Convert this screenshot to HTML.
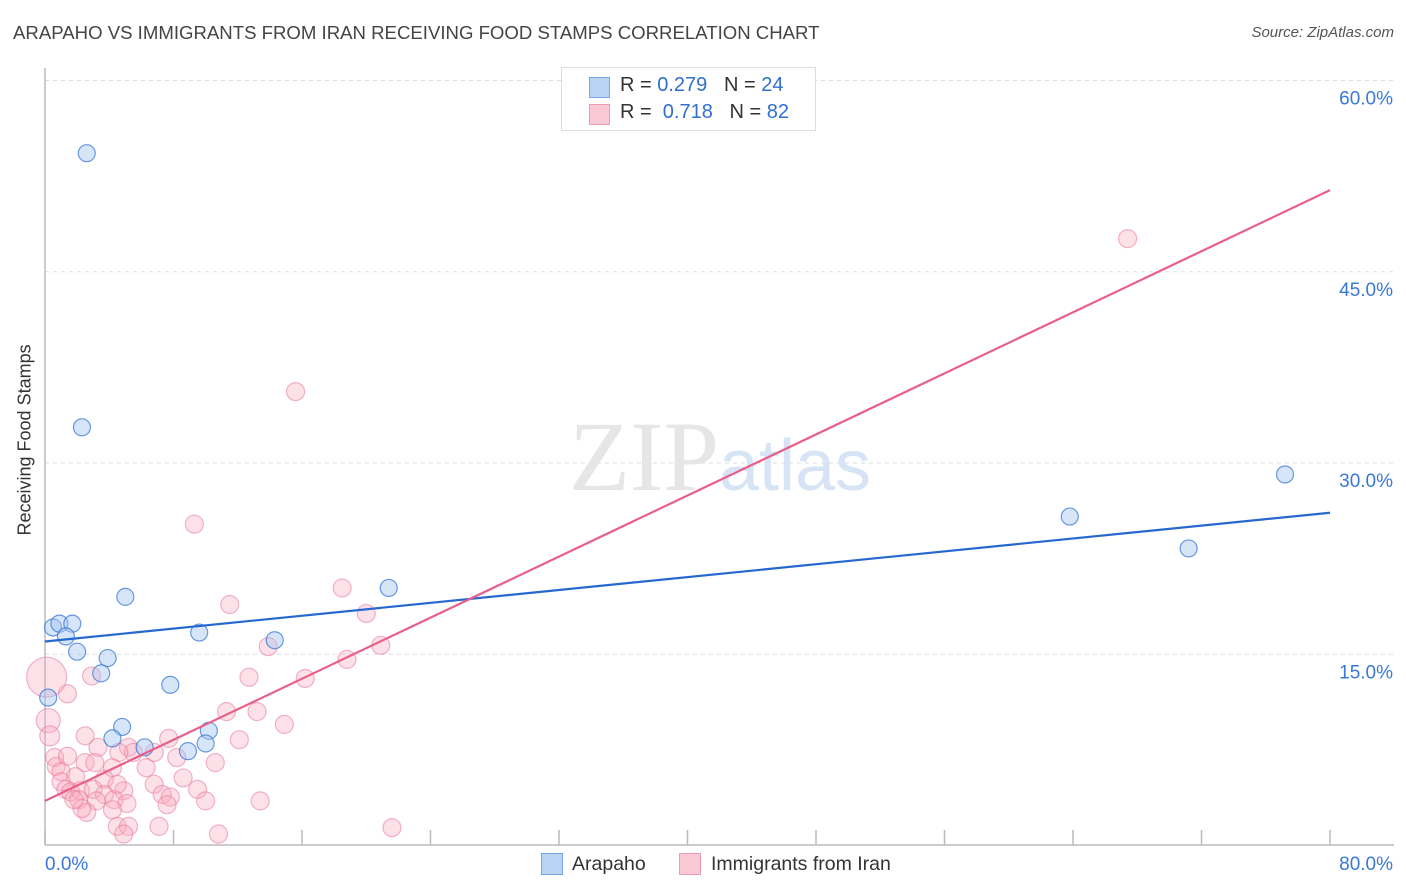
<!DOCTYPE html>
<html><head><meta charset="utf-8"><style>
body{margin:0;background:#fff;font-family:"Liberation Sans",sans-serif;}
#wrap{position:relative;width:1406px;height:892px;overflow:hidden;}
.t{position:absolute;white-space:nowrap;}
</style></head><body><div id="wrap">
<div class="t" style="left:13px;top:22px;font-size:18.6px;color:#444;">ARAPAHO VS IMMIGRANTS FROM IRAN RECEIVING FOOD STAMPS CORRELATION CHART</div>
<div class="t" style="right:12px;top:24px;font-size:15px;color:#555;font-style:italic;">Source: ZipAtlas.com</div>
<div class="t" style="left:-55px;top:445px;font-size:18px;color:#333;transform:rotate(-90deg);width:160px;text-align:center;">Receiving Food Stamps</div>
<svg id="chart" width="1406" height="892" style="position:absolute;left:0;top:0;"></svg>
<div class="t" style="left:561px;top:67px;width:253px;height:62px;border:1px solid #ddd;background:#fff;font-size:20px;color:#333;">
<div style="position:absolute;left:27px;top:9px;width:19px;height:19px;background:#b9d3f5;border:1px solid #7aa6e6;"></div>
<div class="t" style="left:58px;top:6px;">R = <span style="color:#2f6fd0">0.279</span>&nbsp;&nbsp;&nbsp;N = <span style="color:#2f6fd0">24</span></div>
<div style="position:absolute;left:27px;top:36px;width:19px;height:19px;background:#fbc8d6;border:1px solid #ef9ab3;"></div>
<div class="t" style="left:58px;top:33px;">R = &nbsp;<span style="color:#2f6fd0">0.718</span>&nbsp;&nbsp;&nbsp;N = <span style="color:#2f6fd0">82</span></div>
</div>
<div style="position:absolute;left:541px;top:853px;width:20px;height:20px;background:#b9d3f5;border:1px solid #7aa6e6;"></div>
<div class="t" style="left:572px;top:853px;font-size:19.5px;color:#333;">Arapaho</div>
<div style="position:absolute;left:679px;top:853px;width:20px;height:20px;background:#fbc8d6;border:1px solid #ef9ab3;"></div>
<div class="t" style="left:711px;top:853px;font-size:19.5px;color:#333;">Immigrants from Iran</div>
</div>
<script>
const yTicks=[15,30,45,60];
const yTickLabels=["15.0%","30.0%","45.0%","60.0%"];
const xTickLabels=["0.0%","80.0%"];
const arapahoX=[2.6,2.3,5.0,0.5,0.9,1.7,1.3,2.0,3.9,3.5,0.2,7.8,9.6,14.3,21.4,4.8,4.2,6.2,8.9,10.2,10.0,63.8,71.2,77.2];
const arapahoY=[54.3,32.8,19.5,17.1,17.4,17.4,16.4,15.2,14.7,13.5,11.6,12.6,16.7,16.1,20.2,9.3,8.4,7.7,7.4,9.0,8.0,25.8,23.3,29.1];
const iranX=[67.4,15.6,9.3,11.5,18.5,20.0,20.9,18.8,16.2,13.9,12.7,2.9,1.4,0.1,0.2,0.3,13.2,11.3,14.9,12.1,2.5,3.3,7.7,6.8,5.2,5.5,4.6,8.2,10.6,0.6,0.7,1.0,2.5,3.1,4.2,6.3,1.9,1.0,8.6,3.7,6.8,1.3,1.6,2.2,3.0,4.9,3.7,2.1,3.2,4.3,5.1,7.3,7.8,9.5,10.0,13.4,4.2,2.6,2.3,7.6,4.5,5.2,7.1,4.9,10.8,21.6,1.4,1.8,4.5];
const iranY=[47.6,35.6,25.2,18.9,20.2,18.2,15.7,14.6,13.1,15.6,13.2,13.3,11.9,13.2,9.8,8.6,10.5,10.5,9.5,8.3,8.6,7.7,8.4,7.3,7.7,7.3,7.3,6.9,6.5,6.9,6.2,5.8,6.5,6.5,6.1,6.1,5.4,5.0,5.3,5.2,4.8,4.4,4.2,4.3,4.4,4.3,4.0,3.6,3.5,3.6,3.3,4.0,3.8,4.4,3.5,3.5,2.8,2.6,2.9,3.2,1.5,1.5,1.5,0.9,0.9,1.4,7.0,3.6,4.8];
const iranR=[9,9,9,9,9,9,9,9,9,9,9,9,9,20,12,10,9,9,9,9,9,9,9,9,9,9,9,9,9,9,9,9,9,9,9,9,9,9,9,9,9,9,9,9,9,9,9,9,9,9,9,9,9,9,9,9,9,9,9,9,9,9,9,9,9,9,9,9,9];
const trendArapaho=[16.0,26.1];
const trendIran=[3.5,51.4];
const X0=45,X1=1330,Y0=845.5,PXPER=12.75;
const sx=v=>X0+(v/80)*(X1-X0);
const sy=v=>Y0-v*PXPER;
const svg=document.getElementById('chart');
const NS='http://www.w3.org/2000/svg';
function mk(tag,attrs){const e=document.createElementNS(NS,tag);for(const k in attrs)e.setAttribute(k,attrs[k]);svg.appendChild(e);return e;}
yTicks.forEach((v,i)=>{
 const l=mk('line',{x1:X0,x2:1394,y1:sy(v),y2:sy(v),stroke:'#ddd','stroke-dasharray':'4,4'});
 
 
 const t=mk('text',{x:1393,y:sy(v)+24,'text-anchor':'end','font-size':19,fill:'#3a78d8','font-family':'Liberation Sans, sans-serif'});
 t.textContent=yTickLabels[i];
 
 
});
const ax=mk('line',{x1:X0,x2:X0,y1:68,y2:845,stroke:'#bbb','stroke-width':1.5});


const bx=mk('line',{x1:X0,x2:1394,y1:845,y2:845,stroke:'#bbb','stroke-width':1.5});


for(let i=0;i<=10;i++){
 const tk=mk('line',{x1:sx(i*8),x2:sx(i*8),y1:830,y2:845,stroke:'#bbb','stroke-width':1.5});
 
 
}
[[0,'start',X0],[80,'end',1393]].forEach((a,i)=>{
 const t=mk('text',{x:a[2],y:870,'text-anchor':a[1],'font-size':19,fill:'#3a78d8','font-family':'Liberation Sans, sans-serif'});
 t.textContent=xTickLabels[i];
 
 
});
const wm=mk('text',{x:720,y:490,'text-anchor':'middle','font-size':100,'font-family':'Liberation Serif, serif',fill:'#e6e6e6'});
wm.innerHTML='ZIP<tspan fill="#d7e4f5" font-family="Liberation Sans, sans-serif" font-size="72">atlas</tspan>';


iranX.forEach((x,i)=>{
 const c=mk('circle',{cx:sx(x),cy:sy(iranY[i]),r:iranR[i],fill:'rgba(248,170,192,0.35)',stroke:'rgba(232,120,155,0.55)','stroke-width':1.2});
 
 
});
arapahoX.forEach((x,i)=>{
 const c=mk('circle',{cx:sx(x),cy:sy(arapahoY[i]),r:8.5,fill:'rgba(165,198,240,0.45)',stroke:'rgba(60,120,215,0.75)','stroke-width':1.2});
 
 
});
const l1=mk('line',{x1:sx(0),y1:sy(trendArapaho[0]),x2:sx(80),y2:sy(trendArapaho[1]),stroke:'#2468d0','stroke-width':2.2});


const l2=mk('line',{x1:sx(0),y1:sy(trendIran[0]),x2:sx(80),y2:sy(trendIran[1]),stroke:'#e8608a','stroke-width':2.2});


</script>
</body></html>
